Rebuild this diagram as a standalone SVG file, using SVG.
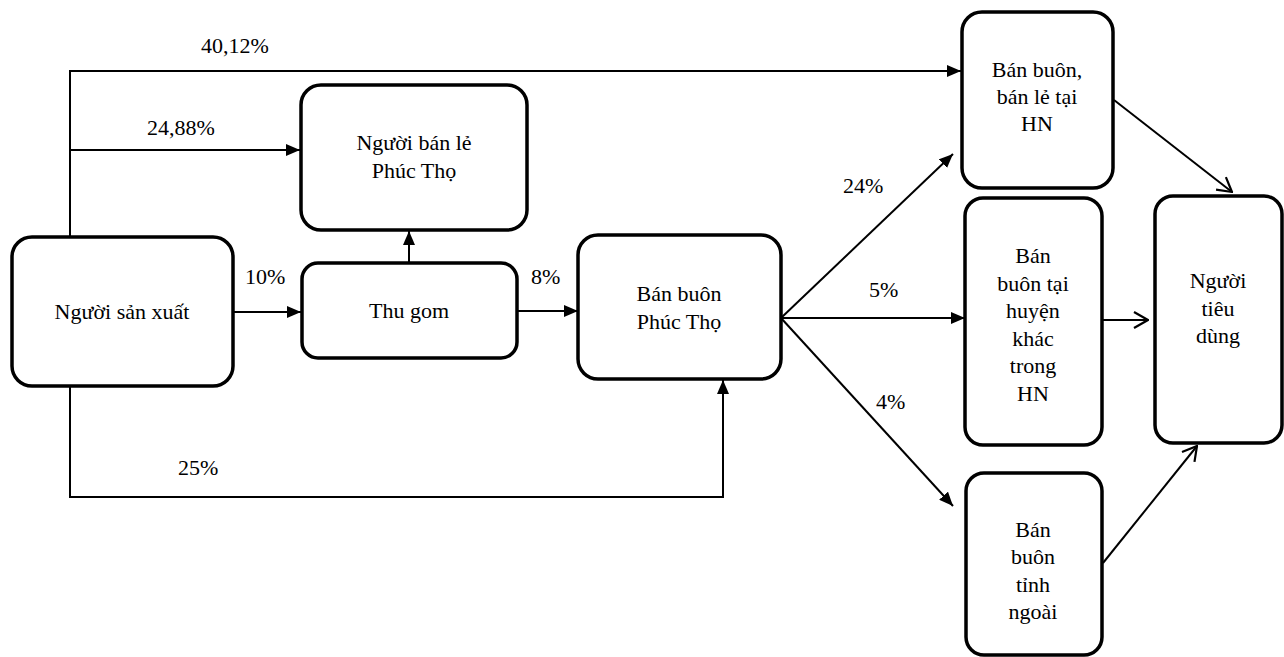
<svg xmlns="http://www.w3.org/2000/svg" width="1284" height="657" viewBox="0 0 1284 657">
<defs>
<style>
.box{fill:#fff;stroke:#000;stroke-width:3.5}
.c{fill:none;stroke:#000;stroke-width:2}
</style>
<marker id="fa" viewBox="0 0 14 12" refX="14" refY="6" markerWidth="14" markerHeight="12" markerUnits="userSpaceOnUse" orient="auto">
<path d="M0,0 L14,6 L0,12 Z" fill="#000"/>
</marker>
<marker id="oa" viewBox="0 0 16 18" refX="15" refY="9" markerWidth="16" markerHeight="18" markerUnits="userSpaceOnUse" orient="auto">
<path d="M1,1 L15,9 L1,17" fill="none" stroke="#000" stroke-width="2.2"/>
</marker>
</defs>
<rect width="1284" height="657" fill="#fff"/>
<g id="connectors">
<path class="c" d="M70,237 V71 H961" marker-end="url(#fa)"/>
<path class="c" d="M71,150 H300" marker-end="url(#fa)"/>
<path class="c" d="M409,262 V231" marker-end="url(#fa)"/>
<path class="c" d="M233,312 H301" marker-end="url(#fa)"/>
<path class="c" d="M517,311 H578" marker-end="url(#fa)"/>
<path class="c" d="M70,387 V497 H723 V380" marker-end="url(#fa)"/>
<path class="c" d="M781,318 L953,154" marker-end="url(#fa)"/>
<path class="c" d="M781,318 H965" marker-end="url(#fa)"/>
<path class="c" d="M781,318 L953,506" marker-end="url(#fa)"/>
<path class="c" d="M1114,100 L1232,192" marker-end="url(#oa)"/>
<path class="c" d="M1103,320 H1148" marker-end="url(#oa)"/>
<path class="c" d="M1103,563 L1197,446" marker-end="url(#oa)"/>
<g style="font-family:'Liberation Serif',serif;font-size:22px">
<text x="201" y="53">40,12%</text>
<text x="147" y="135">24,88%</text>
<text x="245" y="284">10%</text>
<text x="531" y="284">8%</text>
<text x="178" y="475">25%</text>
<text x="843" y="193">24%</text>
<text x="869" y="297">5%</text>
<text x="876" y="409">4%</text>
</g>
</g>
<g style="font-family:'Liberation Serif',serif;font-size:22px;text-anchor:middle">
<g id="nguoi-san-xuat">
<rect class="box" x="12" y="237" width="221" height="149" rx="20"/>
<text x="122" y="319">Người sản xuất</text>
</g>
<g id="nguoi-ban-le-phuc-tho">
<rect class="box" x="301" y="85" width="226" height="145" rx="20"/>
<text x="414" y="150">Người bán lẻ</text>
<text x="414" y="178">Phúc Thọ</text>
</g>
<g id="thu-gom">
<rect class="box" x="302" y="263" width="215" height="95" rx="16"/>
<text x="409" y="318">Thu gom</text>
</g>
<g id="ban-buon-phuc-tho">
<rect class="box" x="578" y="235" width="203" height="144" rx="20"/>
<text x="679" y="301">Bán buôn</text>
<text x="679" y="329">Phúc Thọ</text>
</g>
<g id="ban-buon-ban-le-hn">
<rect class="box" x="962" y="12" width="151" height="176" rx="20"/>
<text x="1037" y="77">Bán buôn,</text>
<text x="1037" y="104">bán lẻ tại</text>
<text x="1037" y="131">HN</text>
</g>
<g id="ban-buon-huyen-khac">
<rect class="box" x="965" y="198" width="137" height="247" rx="18"/>
<text x="1033" y="263">Bán</text>
<text x="1033" y="291">buôn tại</text>
<text x="1033" y="318">huyện</text>
<text x="1033" y="346">khác</text>
<text x="1033" y="373">trong</text>
<text x="1033" y="401">HN</text>
</g>
<g id="ban-buon-tinh-ngoai">
<rect class="box" x="966" y="473" width="136" height="182" rx="18"/>
<text x="1033" y="537">Bán</text>
<text x="1033" y="564">buôn</text>
<text x="1033" y="592">tỉnh</text>
<text x="1033" y="619">ngoài</text>
</g>
<g id="nguoi-tieu-dung">
<rect class="box" x="1155" y="196" width="127" height="247" rx="18"/>
<text x="1218" y="288">Người</text>
<text x="1218" y="316">tiêu</text>
<text x="1218" y="343">dùng</text>
</g>
</g>
</svg>
